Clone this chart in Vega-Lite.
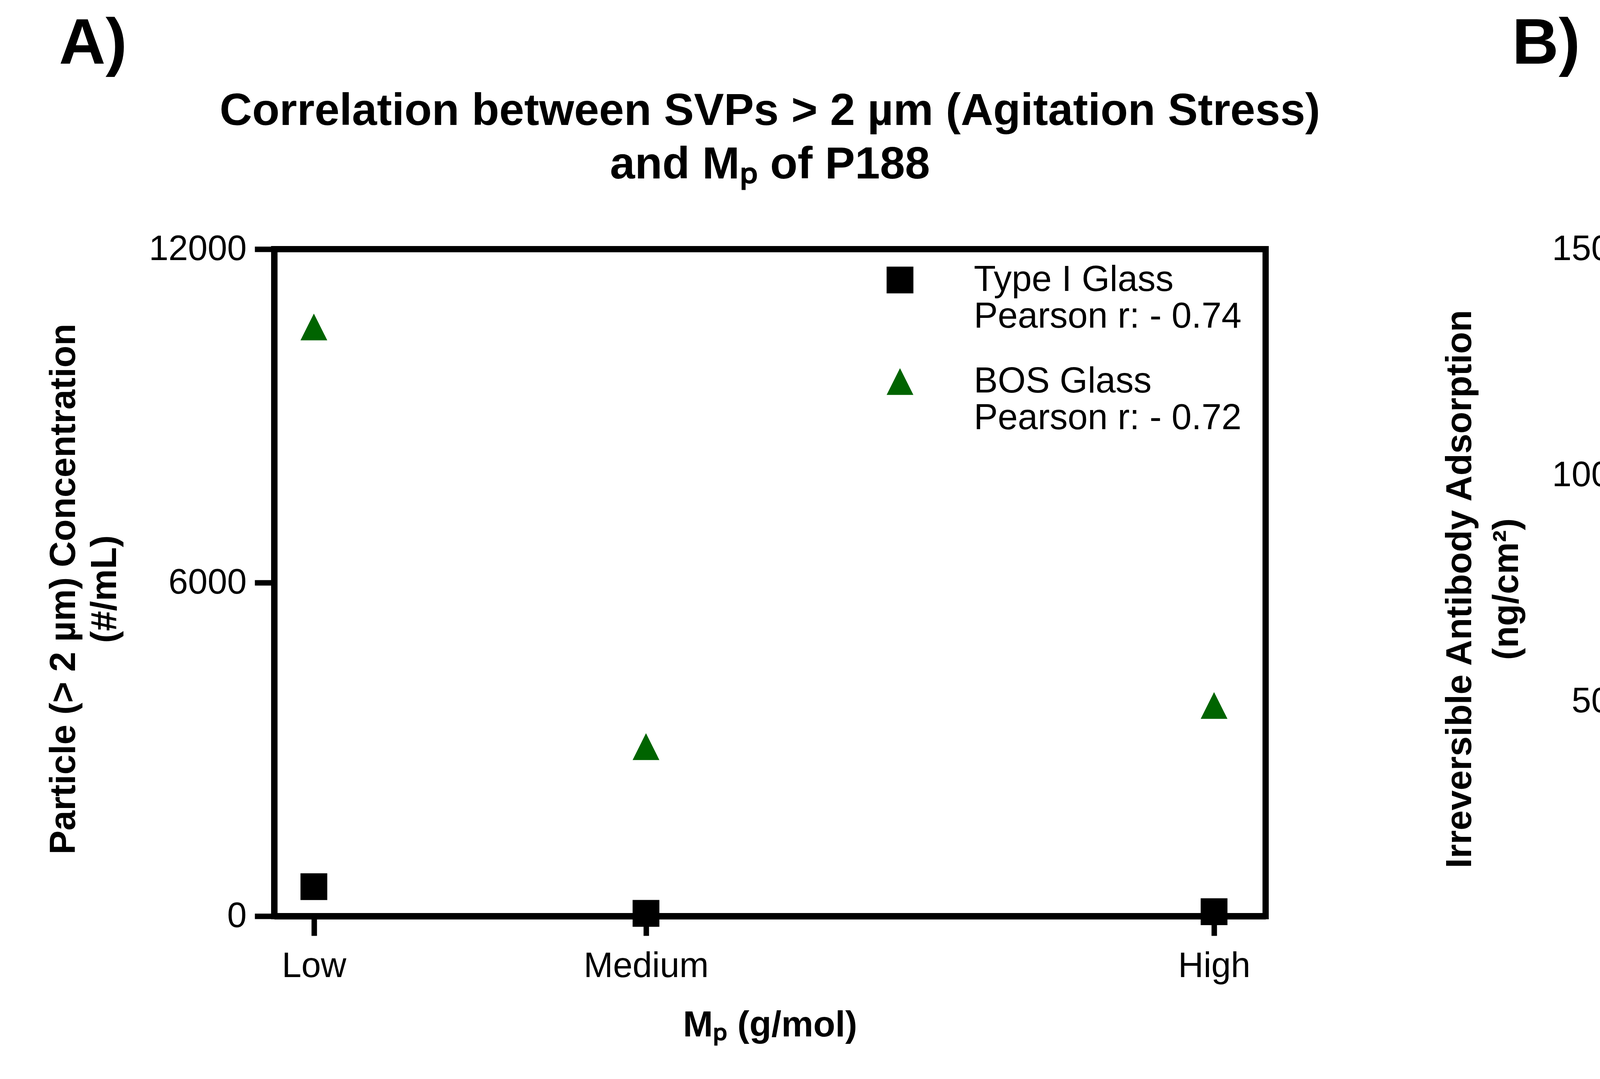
{
  "$schema": "https://vega.github.io/schema/vega-lite/v6.json",
  "background": "white",
  "padding": {"left": 108, "top": 31, "right": 0, "bottom": 0},
  "config": {
    "font": "Liberation Sans",
    "view": {"stroke": "black", "strokeWidth": 16},
    "axis": {"grid": false, "domainColor": "black", "domainWidth": 16, "tickColor": "black", "tickWidth": 14, "labelColor": "black", "labelFont": "Liberation Sans", "labelFontSize": 90, "labelLimit": 2000, "titleColor": "black", "titleFont": "Liberation Sans", "titleFontSize": 92, "titleFontWeight": "bold", "titleLimit": 5000, "labelOverlap": false, "labelFlush": false},
    "legend": {"padding": 0, "labelFont": "Liberation Sans", "labelFontSize": 92, "labelColor": "black", "labelLimit": 3000, "labelBaseline": "middle", "symbolStrokeWidth": 0, "symbolOpacity": 1},
    "title": {"font": "Liberation Sans", "color": "black", "fontWeight": "bold"}
  },
  "spacing": 294,
  "resolve": {"scale": {"color": "independent", "shape": "independent"}},
  "hconcat": [
    {
      "title": {"text": "A)", "anchor": "start", "fontSize": 165, "offset": 22, "dx": 42, "frame": "bounds"},
      "resolve": {"scale": {"color": "independent", "shape": "independent"}},
      "vconcat": [
        {
          "title": {"text": ["Correlation between SVPs > 2 µm (Agitation Stress)", "and Mₚ of P188"], "anchor": "middle", "frame": "group", "fontSize": 115, "lineHeight": 137, "offset": 112},
          "width": 2538,
          "height": 1708,
          "data": {"values": [
            {"container": "BOS Glass", "mp": "Low", "mp_position": 4, "concentration": 10600},
            {"container": "BOS Glass", "mp": "Medium", "mp_position": 37.5, "concentration": 3050},
            {"container": "BOS Glass", "mp": "High", "mp_position": 94.8, "concentration": 3790},
            {"container": "Type I Glass", "mp": "Low", "mp_position": 4, "concentration": 530},
            {"container": "Type I Glass", "mp": "Medium", "mp_position": 37.5, "concentration": 50},
            {"container": "Type I Glass", "mp": "High", "mp_position": 94.8, "concentration": 80}
          ]},
          "mark": {"type": "point", "filled": true, "opacity": 1, "size": 4700, "strokeWidth": 0},
          "encoding": {
            "x": {"field": "mp_position", "type": "quantitative", "scale": {"domain": [0, 100], "nice": false, "zero": false},
              "axis": {"values": [4, 37.5, 94.8], "labelExpr": "datum.value == 4 ? 'Low' : datum.value == 37.5 ? 'Medium' : 'High'", "title": "Mₚ (g/mol)", "tickSize": 50, "labelPadding": 34, "titlePadding": 61}},
            "y": {"field": "concentration", "type": "quantitative", "scale": {"domain": [0, 12000], "nice": false},
              "axis": {"values": [0, 6000, 12000], "format": "d", "title": ["Particle (> 2 µm) Concentration", "(#/mL)"], "titleLineHeight": 105, "titleX": -492, "titleY": 870, "tickSize": 50, "labelPadding": 21}},
            "shape": {"field": "container", "type": "nominal",
              "scale": {"domain": ["Type I Glass", "BOS Glass"], "range": ["square", "M0,-1L1,1L-1,1Z"]},
              "legend": {"title": null, "orient": "none", "legendX": 1556, "legendY": 33, "symbolSize": 4700, "rowPadding": 74, "labelOffset": 143,
                "labelExpr": "datum.label == 'Type I Glass' ? ['Type I Glass', 'Pearson r: - 0.74'] : ['BOS Glass', 'Pearson r: - 0.72']"}},
            "color": {"field": "container", "type": "nominal",
              "scale": {"domain": ["Type I Glass", "BOS Glass"], "range": ["#000000", "#006400"]},
              "legend": {"title": null, "orient": "none", "legendX": 1556, "legendY": 33, "symbolSize": 4700, "rowPadding": 74, "labelOffset": 143,
                "labelExpr": "datum.label == 'Type I Glass' ? ['Type I Glass', 'Pearson r: - 0.74'] : ['BOS Glass', 'Pearson r: - 0.72']"}}
          }
        }
      ]
    },
    {
      "title": {"text": "B)", "anchor": "start", "fontSize": 165, "offset": -20, "dx": 188, "frame": "bounds"},
      "resolve": {"scale": {"color": "independent", "shape": "independent"}},
      "vconcat": [
        {
          "title": {"text": ["Correlation between Irreversible Protein Adsorption", "on Surfaces and Mₚ of P188"], "anchor": "middle", "frame": "group", "fontSize": 115, "lineHeight": 143, "offset": 148},
          "width": 2632,
          "height": 1738,
          "data": {"values": [
            {"surface": "PDMS", "mp": "Low", "mp_position": 4, "adsorption": 780},
            {"surface": "PDMS", "mp": "Medium", "mp_position": 37.5, "adsorption": 769},
            {"surface": "PDMS", "mp": "High", "mp_position": 94.8, "adsorption": 745},
            {"surface": "COP", "mp": "Low", "mp_position": 4, "adsorption": 384},
            {"surface": "COP", "mp": "Medium", "mp_position": 37.5, "adsorption": 311},
            {"surface": "COP", "mp": "High", "mp_position": 94.8, "adsorption": 221},
            {"surface": "SiO₂", "mp": "Low", "mp_position": 4, "adsorption": 816},
            {"surface": "SiO₂", "mp": "Medium", "mp_position": 37.5, "adsorption": 810},
            {"surface": "SiO₂", "mp": "High", "mp_position": 94.8, "adsorption": 694}
          ]},
          "mark": {"type": "point", "filled": true, "opacity": 1, "size": 5041, "strokeWidth": 0},
          "encoding": {
            "x": {"field": "mp_position", "type": "quantitative", "scale": {"domain": [0, 100], "nice": false, "zero": false},
              "axis": {"values": [4, 37.5, 94.8], "labelExpr": "datum.value == 4 ? 'Low' : datum.value == 37.5 ? 'Medium' : 'High'", "title": "Mₚ (g/mol)", "tickSize": 74, "labelPadding": 20, "titlePadding": 75}},
            "y": {"field": "adsorption", "type": "quantitative", "scale": {"domain": [0, 1500], "nice": false},
              "axis": {"values": [0, 500, 1000, 1500], "format": "d", "title": ["Irreversible Antibody Adsorption", "(ng/cm²)"], "titleLineHeight": 120, "titleX": -464, "titleY": 870, "tickSize": 53, "labelPadding": 22}},
            "shape": {"field": "surface", "type": "nominal",
              "scale": {"domain": ["SiO₂", "PDMS", "COP"], "range": ["square", "M0,-1L1,1L-1,1Z", "circle"]},
              "legend": {"title": null, "orient": "none", "legendX": 1630, "legendY": 19, "symbolSize": 5041, "rowPadding": 29, "labelOffset": 147,
                "labelExpr": "datum.label == 'SiO₂' ? ['SiO₂', 'Pearson r: - 0.95'] : datum.label == 'PDMS' ? ['PDMS', 'Pearson r: - 0.99'] : ['COP', 'Pearson r: - 0.99']"}},
            "color": {"field": "surface", "type": "nominal",
              "scale": {"domain": ["SiO₂", "PDMS", "COP"], "range": ["#000000", "#006400", "#a6a6aa"]},
              "legend": {"title": null, "orient": "none", "legendX": 1630, "legendY": 19, "symbolSize": 5041, "rowPadding": 29, "labelOffset": 147,
                "labelExpr": "datum.label == 'SiO₂' ? ['SiO₂', 'Pearson r: - 0.95'] : datum.label == 'PDMS' ? ['PDMS', 'Pearson r: - 0.99'] : ['COP', 'Pearson r: - 0.99']"}}
          }
        }
      ]
    }
  ]
}
